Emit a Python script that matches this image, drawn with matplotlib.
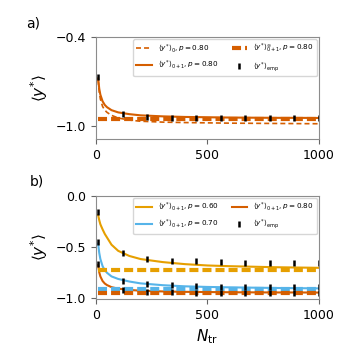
import matplotlib
matplotlib.use("Agg")
import matplotlib.pyplot as plt

plt.rcParams['lines.scale_dashes'] = False

# ---- data ----
N_curve = [10, 15, 20, 30, 40, 50, 70, 100, 150, 200, 300, 400, 500, 600, 700, 800, 900, 1000]
# panel a
a_y0_p80 = [-0.69, -0.77, -0.82, -0.87, -0.895, -0.91, -0.93, -0.948, -0.962, -0.97,
            -0.976, -0.979, -0.981, -0.983, -0.984, -0.985, -0.986, -0.987]
y01_p80 = [-0.68, -0.75, -0.79, -0.835, -0.86, -0.875, -0.895, -0.91, -0.922, -0.93,
           -0.937, -0.941, -0.943, -0.945, -0.946, -0.947, -0.947, -0.948]
y01_p60 = [-0.19, -0.24, -0.28, -0.33, -0.375, -0.41, -0.48, -0.54, -0.59, -0.62,
           -0.65, -0.67, -0.683, -0.69, -0.695, -0.70, -0.703, -0.706]
y01_p70 = [-0.47, -0.56, -0.62, -0.69, -0.73, -0.755, -0.79, -0.815, -0.84, -0.858,
           -0.876, -0.887, -0.893, -0.897, -0.90, -0.903, -0.905, -0.907]
asym_p60 = -0.732
asym_p70 = -0.918
asym_p80 = -0.955

N_emp = [10, 120, 230, 340, 450, 560, 670, 780, 890, 1000]
a_emp = [-0.671, -0.918, -0.94, -0.947, -0.948, -0.949, -0.95, -0.95, -0.95, -0.95]
b_emp_p60 = [-0.16, -0.559, -0.617, -0.635, -0.641, -0.647, -0.654, -0.658, -0.66, -0.66]
b_emp_p70 = [-0.45, -0.833, -0.867, -0.878, -0.885, -0.89, -0.893, -0.895, -0.897, -0.898]
b_emp_p80 = [-0.67, -0.925, -0.94, -0.945, -0.948, -0.95, -0.95, -0.95, -0.95, -0.95]

xticks = [0, 500, 1000]
a_yticks = [-1.0, -0.4]
b_yticks = [-1.0, -0.5, 0.0]

C60 = '#E69F00'
C70 = '#56B4E9'
C80 = '#D55E00'

fig = plt.figure(figsize=(3.5, 3.5), dpi=100)
axa = fig.add_axes([0.274, 0.603, 0.637, 0.291])
axb = fig.add_axes([0.274, 0.146, 0.637, 0.295])

thick_ls = (0, (6.5, 2.9))
thin_ls = (0, (3.6, 2.2))
emp_kw = dict(ls='none', marker='|', ms=4.2, mew=1.8, color='k')

def style(ax):
    for s in ax.spines.values():
        s.set_color('0.55')
    ax.tick_params(colors='0.4', labelcolor='k', labelsize=9, length=3.5)
    ax.set_xlim(0, 1000)
    ax.set_xticks(xticks)
    ax.set_ylabel(r'$\langle y^{*}\rangle$', fontsize=11)

leg_kw = dict(ncol=2, fontsize=5.2, loc='upper right', labelspacing=0.6, columnspacing=1.8,
              borderaxespad=0.3, handlelength=2.2)

# panel a
axa.plot(N_curve, a_y0_p80, color=C80, lw=1.2, ls=thin_ls, label=r'$\langle y^{*}\rangle_{0}, p=0.80$')
axa.plot(N_curve, y01_p80, color=C80, lw=1.5, label=r'$\langle y^{*}\rangle_{0+1}, p=0.80$')
axa.plot([N_curve[0], N_curve[-1]], [asym_p80, asym_p80], color=C80, lw=3, ls=thick_ls,
         label=r'$\langle y^{*}\rangle_{0+1}^{\infty}, p=0.80$')
axa.plot(N_emp, a_emp, label=r'$\langle y^{*}\rangle_{\rm emp}$', **emp_kw)
style(axa)
axa.set_ylim(-1.09, -0.4)
axa.set_yticks(a_yticks)
axa.legend(**leg_kw)

# panel b
axb.plot(N_curve, y01_p60, color=C60, lw=1.5, label=r'$\langle y^{*}\rangle_{0+1}, p=0.60$')
axb.plot(N_curve, y01_p70, color=C70, lw=1.5, label=r'$\langle y^{*}\rangle_{0+1}, p=0.70$')
axb.plot(N_curve, y01_p80, color=C80, lw=1.5, label=r'$\langle y^{*}\rangle_{0+1}, p=0.80$')
for v, c in [(asym_p60, C60), (asym_p70, C70), (asym_p80, C80)]:
    axb.plot([N_curve[0], N_curve[-1]], [v, v], color=c, lw=3, ls=thick_ls)
axb.plot(N_emp, b_emp_p60, label=r'$\langle y^{*}\rangle_{\rm emp}$', **emp_kw)
axb.plot(N_emp, b_emp_p70, **emp_kw)
axb.plot(N_emp, b_emp_p80, **emp_kw)
style(axb)
axb.set_ylim(-1.01, 0.0)
axb.set_yticks(b_yticks)
axb.set_xlabel(r'$N_{\rm tr}$', fontsize=11)
axb.legend(**leg_kw)

fig.text(0.094, 0.934, 'a)', fontsize=10, ha='center', va='center')
fig.text(0.106, 0.482, 'b)', fontsize=10, ha='center', va='center')

fig.savefig('out.png', dpi=100)
